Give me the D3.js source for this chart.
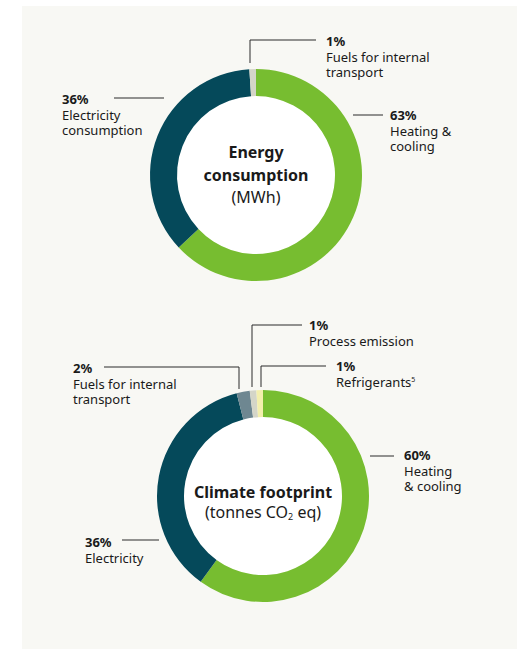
<!DOCTYPE html>
<html>
<head>
<meta charset="utf-8">
<script src="https://cdn.jsdelivr.net/npm/d3@7"></script>
<style>
  html, body { margin: 0; padding: 0; background: #ffffff; }
  svg { display: block; font-family: "Noto Sans", "Open Sans", sans-serif; }
</style>
</head>
<body>
<svg id="chart" width="524" height="649"></svg>
<script>
// Energy consumption shares (%), clockwise from 12 o'clock
const energyCategories = ["Heating & cooling", "Electricity consumption", "Fuels for internal transport"];
const energyValues = [63, 36, 1];
const energyColors = ["#77bd30", "#05495a", "#d4d5c8"];

// Climate footprint shares (%), clockwise from 12 o'clock
const climateCategories = ["Heating & cooling", "Electricity", "Fuels for internal transport", "Process emission", "Refrigerants"];
const climateValues = [60, 36, 2, 1, 1];
const climateColors = ["#77bd30", "#05495a", "#6e8791", "#d4d5c8", "#f3efad"];

const svg = d3.select("#chart");

// panel background
svg.append("rect").attr("x", 22).attr("y", 6).attr("width", 495).attr("height", 643).attr("fill", "#f8f8f4");

const outerR = 106, innerR = 79;
const lineGap = 15.5;
const pie = d3.pie().sort(null).value(d => d);
const arc = d3.arc().innerRadius(innerR).outerRadius(outerR);

function donut(cx, cy, values, colors, centerLines, labels) {
  const g = svg.append("g").attr("transform", `translate(${cx},${cy})`);
  g.append("circle").attr("r", innerR).attr("fill", "#ffffff");
  g.selectAll("path.slice")
    .data(pie(values))
    .join("path")
    .attr("class", "slice")
    .attr("d", arc)
    .attr("fill", (d, i) => colors[i]);

  // centre title
  centerLines.forEach(l => {
    const t = g.append("text")
      .attr("x", 0).attr("y", l.y)
      .attr("text-anchor", "middle")
      .attr("font-size", 16)
      .attr("font-weight", l.bold ? 700 : 400)
      .attr("fill", "#1a1a1a");
    l.parts.forEach(p => {
      const s = t.append("tspan").text(p.text);
      if (p.sub) s.attr("font-size", 9).attr("dy", 2);
      else if (p.after) s.attr("dy", -2);
    });
  });

  // annotations: leader line, bold share, then the category lines
  labels.forEach(lb => {
    g.append("path")
      .attr("d", d3.line()(lb.leader))
      .attr("fill", "none")
      .attr("stroke", "#2b2b2b")
      .attr("stroke-width", 1);
    g.append("text")
      .attr("x", lb.x).attr("y", lb.y)
      .attr("font-size", 13)
      .attr("font-weight", 700)
      .attr("fill", "#1a1a1a")
      .text(lb.pct);
    lb.lines.forEach((line, i) => {
      const t = g.append("text")
        .attr("x", lb.x).attr("y", lb.y + lineGap * (i + 1))
        .attr("font-size", 13)
        .attr("fill", "#1a1a1a");
      t.append("tspan").text(line);
      if (lb.sup && i === lb.lines.length - 1) {
        t.append("tspan").attr("font-size", 7).attr("dy", -5).text(lb.sup);
      }
    });
  });
}

const pctText = v => v + "%";

// Energy consumption donut
donut(256, 175, energyValues, energyColors,
  [
    { y: -17, bold: true, parts: [{ text: "Energy" }] },
    { y: 6, bold: true, parts: [{ text: "consumption" }] },
    { y: 28, bold: false, parts: [{ text: "(MWh)" }] }
  ],
  [
    { pct: pctText(energyValues[2]), lines: ["Fuels for internal", "transport"], x: 70, y: -129,
      leader: [[-6, -112], [-6, -135], [60, -135]] },
    { pct: pctText(energyValues[0]), lines: ["Heating &", "cooling"], x: 134, y: -55,
      leader: [[97, -60], [127, -60]] },
    { pct: pctText(energyValues[1]), lines: ["Electricity", "consumption"], x: -194, y: -71,
      leader: [[-142, -77], [-92, -77]] }
  ]);

// Climate footprint donut
donut(263, 496, climateValues, climateColors,
  [
    { y: 2, bold: true, parts: [{ text: "Climate footprint" }] },
    { y: 22, bold: false, parts: [{ text: "(tonnes CO" }, { text: "2", sub: true }, { text: " eq)", after: true }] }
  ],
  [
    { pct: pctText(climateValues[3]), lines: ["Process emission"], x: 46, y: -166,
      leader: [[-11, -109], [-11, -171], [39, -171]] },
    { pct: pctText(climateValues[4]), lines: ["Refrigerants"], sup: "5", x: 73, y: -125,
      leader: [[-2, -109], [-2, -130], [63, -130]] },
    { pct: pctText(climateValues[0]), lines: ["Heating", "& cooling"], x: 141, y: -36,
      leader: [[107, -40], [131, -40]] },
    { pct: pctText(climateValues[2]), lines: ["Fuels for internal", "transport"], x: -190, y: -123,
      leader: [[-24, -107], [-24, -129], [-159, -129]] },
    { pct: pctText(climateValues[1]), lines: ["Electricity"], x: -178, y: 51,
      leader: [[-141, 44], [-104, 44]] }
  ]);
</script>
</body>
</html>
